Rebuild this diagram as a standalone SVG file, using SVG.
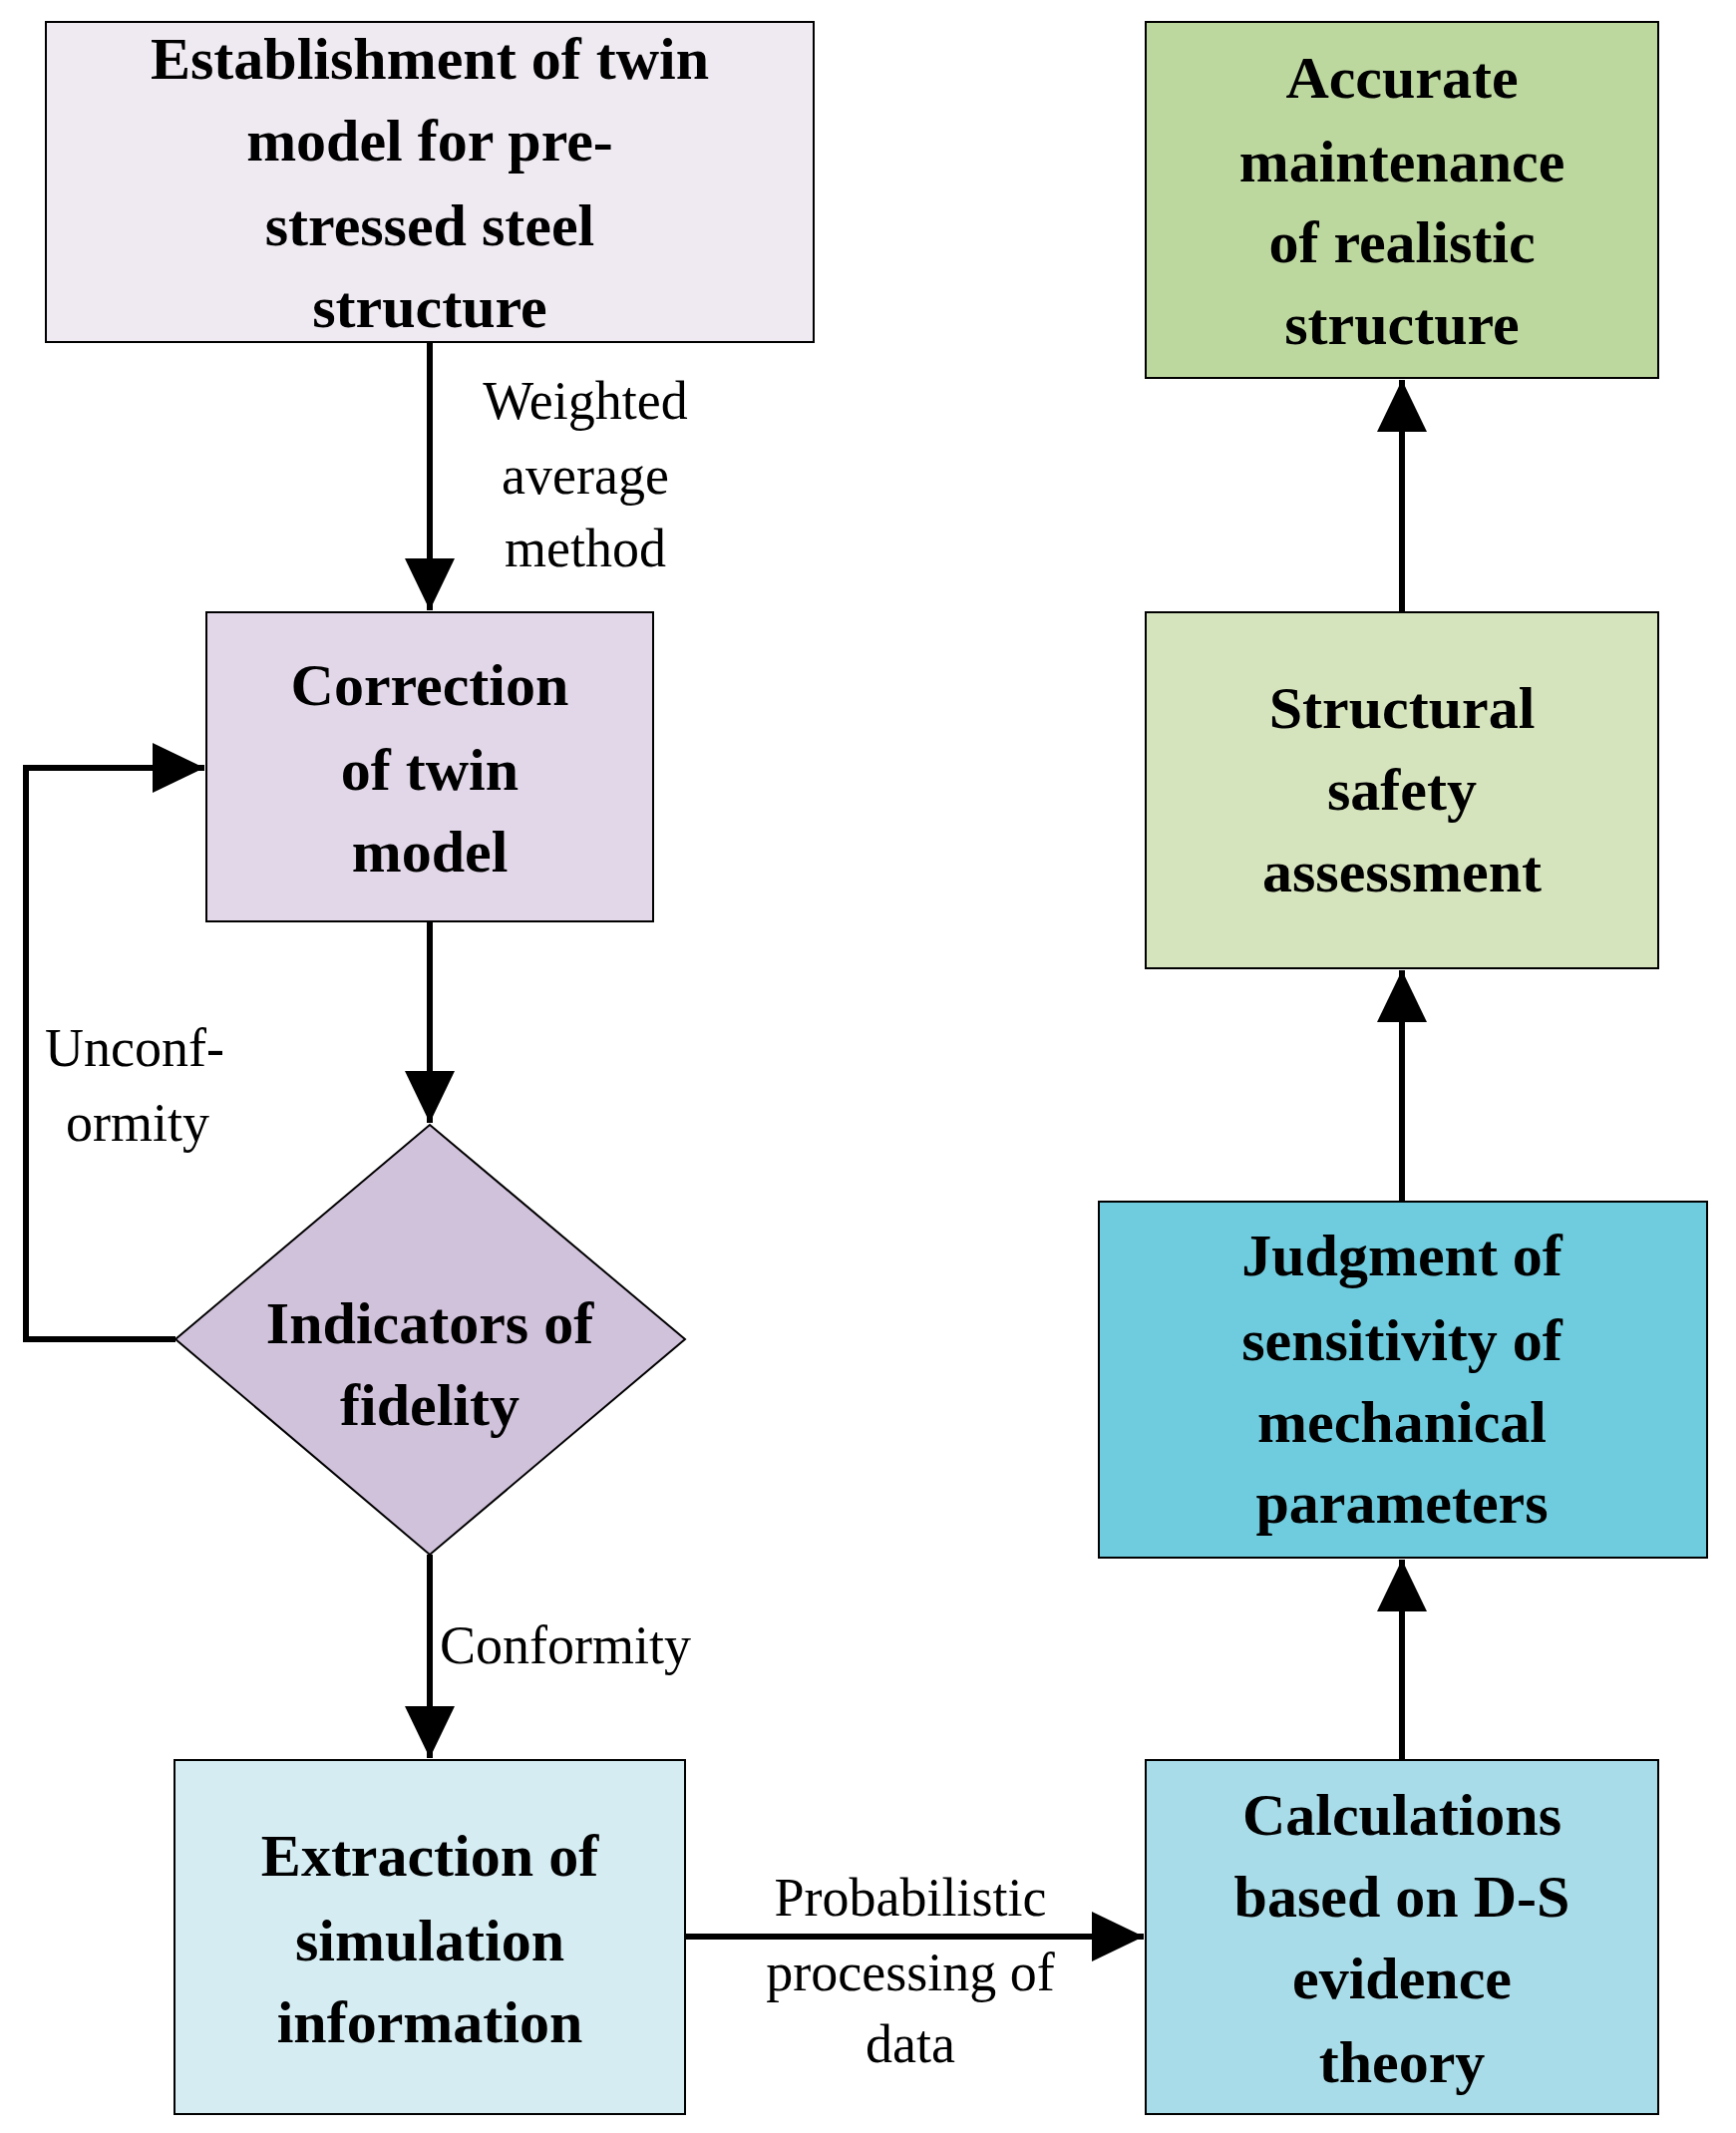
<svg xmlns="http://www.w3.org/2000/svg" width="1741" height="2139" viewBox="0 0 1741 2139">
<style>
.n{stroke:#000;stroke-width:2}
.t{font-family:"Liberation Serif",serif;font-weight:bold;font-size:60px;text-anchor:middle;fill:#000}
.l{font-family:"Liberation Serif",serif;font-size:54px;fill:#000}
.c{stroke:#000;stroke-width:6;fill:none}
</style>
<defs><marker id="a" markerUnits="userSpaceOnUse" markerWidth="54" markerHeight="50" refX="52" refY="25" orient="auto"><path d="M0,0 L52,25 L0,50 Z" fill="#000"/></marker></defs>
<rect width="1741" height="2139" fill="#fff"/>
<g id="connectors">
<path class="c" d="M431,343 V612" marker-end="url(#a)"/>
<path class="c" d="M431,924 V1126" marker-end="url(#a)"/>
<path class="c" d="M431,1559 V1763" marker-end="url(#a)"/>
<path class="c" d="M176,1343 H26 V770 H205" marker-end="url(#a)"/>
<path class="c" d="M687,1942 H1147" marker-end="url(#a)"/>
<path class="c" d="M1406,1765 V1564" marker-end="url(#a)"/>
<path class="c" d="M1406,1205 V973" marker-end="url(#a)"/>
<path class="c" d="M1406,614 V381" marker-end="url(#a)"/>
<text class="l" x="587" y="420" text-anchor="middle">Weighted</text>
<text class="l" x="587" y="495" text-anchor="middle">average</text>
<text class="l" x="587" y="568" text-anchor="middle">method</text>
<text class="l" x="45" y="1069">Unconf-</text>
<text class="l" x="66" y="1144">ormity</text>
<text class="l" x="441" y="1668">Conformity</text>
<text class="l" x="913" y="1921" text-anchor="middle">Probabilistic</text>
<text class="l" x="913" y="1996" text-anchor="middle">processing of</text>
<text class="l" x="913" y="2068" text-anchor="middle">data</text>
</g>
<g id="n1"><rect class="n" x="46" y="22" width="770" height="321" fill="#EFE9F1"/>
<text class="t" x="431" y="79">Establishment of twin</text><text class="t" x="431" y="161">model for pre-</text><text class="t" x="431" y="246">stressed steel</text><text class="t" x="431" y="328">structure</text></g>
<g id="n2"><rect class="n" x="207" y="614" width="448" height="310" fill="#E2D7E8"/>
<text class="t" x="431" y="707">Correction</text><text class="t" x="431" y="792">of twin</text><text class="t" x="431" y="874">model</text></g>
<g id="n3"><path class="n" d="M431,1128 L687,1343 L431,1559 L176,1343 Z" fill="#D1C2DC"/>
<text class="t" x="431" y="1347">Indicators of</text><text class="t" x="431" y="1429">fidelity</text></g>
<g id="n4"><rect class="n" x="175" y="1765" width="512" height="355" fill="#D4ECF2"/>
<text class="t" x="431" y="1881">Extraction of</text><text class="t" x="431" y="1966">simulation</text><text class="t" x="431" y="2048">information</text></g>
<g id="n5"><rect class="n" x="1149" y="1765" width="514" height="355" fill="#A8DCE8"/>
<text class="t" x="1406" y="1840">Calculations</text><text class="t" x="1406" y="1922">based on D-S</text><text class="t" x="1406" y="2004">evidence</text><text class="t" x="1406" y="2088">theory</text></g>
<g id="n6"><rect class="n" x="1102" y="1205" width="610" height="357" fill="#6ECCDE"/>
<text class="t" x="1406" y="1279">Judgment of</text><text class="t" x="1406" y="1364">sensitivity of</text><text class="t" x="1406" y="1446">mechanical</text><text class="t" x="1406" y="1527">parameters</text></g>
<g id="n7"><rect class="n" x="1149" y="614" width="514" height="357" fill="#D6E4BE"/>
<text class="t" x="1406" y="730">Structural</text><text class="t" x="1406" y="812">safety</text><text class="t" x="1406" y="894">assessment</text></g>
<g id="n8"><rect class="n" x="1149" y="22" width="514" height="357" fill="#BDD89F"/>
<text class="t" x="1406" y="98">Accurate</text><text class="t" x="1406" y="182">maintenance</text><text class="t" x="1406" y="263">of realistic</text><text class="t" x="1406" y="345">structure</text></g>
</svg>
